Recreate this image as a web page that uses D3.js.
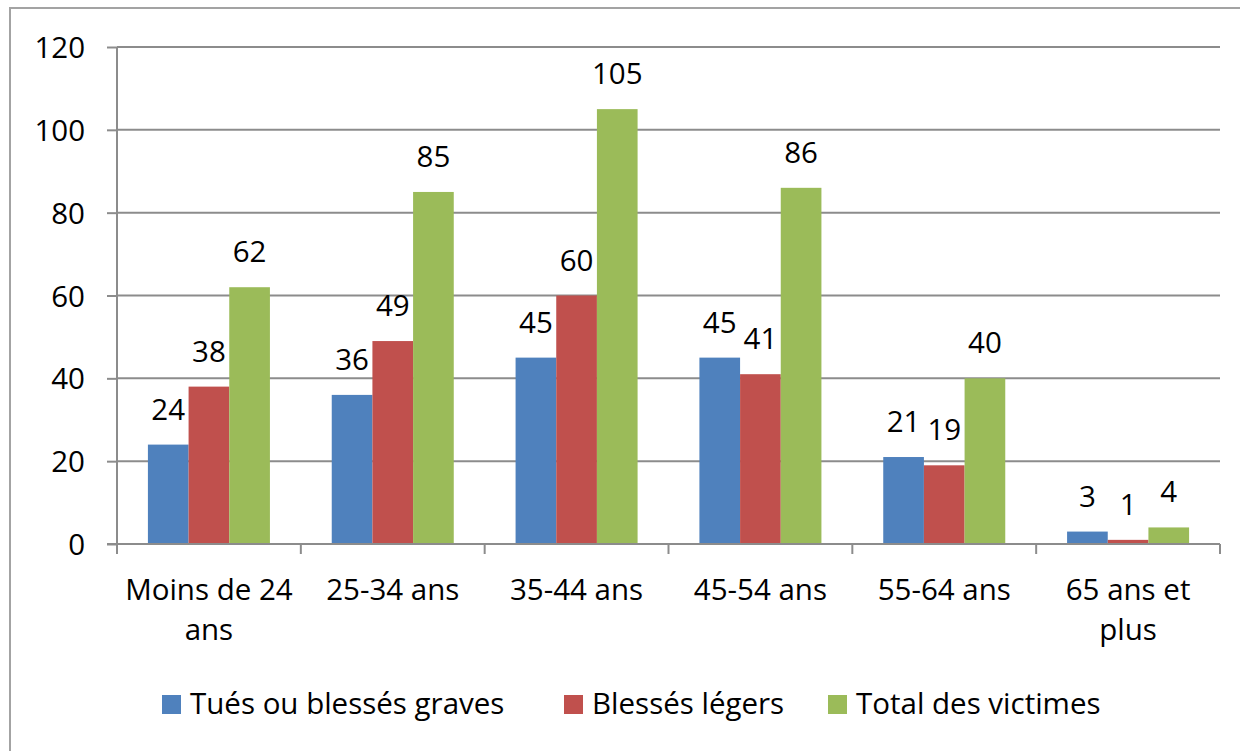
<!DOCTYPE html>
<html>
<head>
<meta charset="utf-8">
<script src="https://cdn.jsdelivr.net/npm/d3@7"></script>
<style>
  body { margin: 0; background: #fff; }
  svg text { font-family: "Open Sans", Lato, sans-serif; fill: #000; }
</style>
</head>
<body>
<svg id="canvas" width="1240" height="751"></svg>
<script>
const categories = ["Moins de 24 ans", "25-34 ans", "35-44 ans", "45-54 ans", "55-64 ans", "65 ans et plus"];
const seriesNames = ["Tués ou blessés graves", "Blessés légers", "Total des victimes"];
const tuesGraves = [24, 36, 45, 45, 21, 3];
const blessesLegers = [38, 49, 60, 41, 19, 1];
const totalVictimes = [62, 85, 105, 86, 40, 4];
const yTicks = [0, 20, 40, 60, 80, 100, 120];
const colors = ["#4f81bd", "#c0504d", "#9bbb59"];

const series = [tuesGraves, blessesLegers, totalVictimes];

const svg = d3.select("#canvas");
const plotLeft = 117, plotRight = 1220, plotTop = 47, plotBottom = 544;
const fontSize = "29.5px";

// outer chart frame
svg.append("rect")
  .attr("x", 10).attr("y", 8)
  .attr("width", 1250).attr("height", 770)
  .attr("fill", "none")
  .attr("stroke", "#a3a3a3")
  .attr("stroke-width", 2);

const x = d3.scaleBand().domain(categories).range([plotLeft, plotRight]).padding(0);
const inner = d3.scaleBand().domain([0, 1, 2])
  .range([0, x.bandwidth()]).paddingOuter(0.76).paddingInner(0);
const y = d3.scaleLinear().domain([0, 120]).range([plotBottom, plotTop]);

// gridlines
svg.append("g")
  .selectAll("line")
  .data(yTicks.filter(d => d > 0))
  .enter()
  .append("line")
  .attr("x1", plotLeft).attr("x2", plotRight)
  .attr("y1", d => y(d)).attr("y2", d => y(d))
  .attr("stroke", "#8c8c8c")
  .attr("stroke-width", 2);

// bars
series.forEach((values, s) => {
  svg.append("g")
    .selectAll("rect")
    .data(values)
    .enter()
    .append("rect")
    .attr("x", (d, i) => x(categories[i]) + inner(s))
    .attr("y", d => y(d))
    .attr("width", inner.bandwidth())
    .attr("height", d => y(0) - y(d))
    .attr("fill", colors[s]);

  svg.append("g")
    .selectAll("text")
    .data(values)
    .enter()
    .append("text")
    .attr("x", (d, i) => x(categories[i]) + inner(s) + inner.bandwidth() / 2)
    .attr("y", d => y(d) - 25)
    .attr("text-anchor", "middle")
    .style("font-size", fontSize)
    .text(d => d);
});

// y axis
const yAxis = svg.append("g")
  .attr("transform", `translate(${plotLeft},0)`)
  .call(d3.axisLeft(y).tickValues(yTicks).tickSize(10).tickPadding(22));
yAxis.select(".domain").attr("stroke", "#8c8c8c").attr("stroke-width", 2).attr("d", `M0,${plotTop}V${plotBottom}`);
yAxis.selectAll(".tick line").attr("stroke", "#8c8c8c").attr("stroke-width", 2);
yAxis.selectAll(".tick text").style("font-size", fontSize).attr("dy", "0.36em");

// x axis
const xAxis = svg.append("g")
  .attr("transform", `translate(0,${plotBottom})`);
xAxis.append("line")
  .attr("x1", plotLeft - 10).attr("x2", plotRight)
  .attr("stroke", "#8c8c8c").attr("stroke-width", 2);
xAxis.selectAll("line.tick")
  .data(categories.concat(["end"]))
  .enter()
  .append("line")
  .attr("class", "tick")
  .attr("x1", (d, i) => plotLeft + i * x.step())
  .attr("x2", (d, i) => plotLeft + i * x.step())
  .attr("y1", 0).attr("y2", 10)
  .attr("stroke", "#8c8c8c").attr("stroke-width", 2);

const catLabels = xAxis.selectAll("text")
  .data(categories)
  .enter()
  .append("text")
  .attr("x", d => x(d) + x.bandwidth() / 2)
  .attr("y", 56)
  .attr("text-anchor", "middle")
  .style("font-size", fontSize);

// wrap category labels like excel does
catLabels.each(function (d) {
  const t = d3.select(this);
  const words = d.split(" ");
  let line = [];
  let tspan = t.append("tspan").attr("x", t.attr("x")).attr("dy", 0);
  words.forEach(w => {
    line.push(w);
    tspan.text(line.join(" "));
    if (tspan.node().getComputedTextLength() > x.bandwidth() - 4 && line.length > 1) {
      line.pop();
      tspan.text(line.join(" "));
      line = [w];
      tspan = t.append("tspan").attr("x", t.attr("x")).attr("dy", "40px").text(w);
    }
  });
});

// legend
const legendX = [162, 564, 828];
const legend = svg.append("g");
seriesNames.forEach((name, i) => {
  legend.append("rect")
    .attr("x", legendX[i]).attr("y", 695)
    .attr("width", 19).attr("height", 19)
    .attr("fill", colors[i]);
  legend.append("text")
    .attr("x", legendX[i] + 28).attr("y", 714)
    .style("font-size", fontSize)
    .text(name);
});
</script>
</body>
</html>
